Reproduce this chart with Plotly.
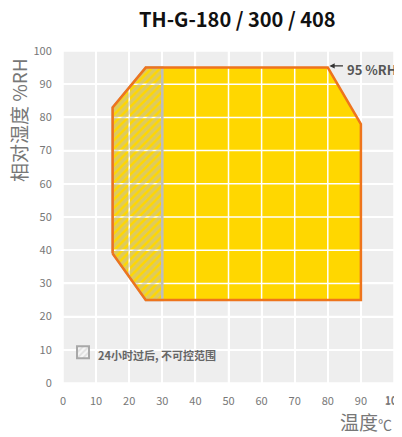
import plotly.graph_objects as go

# Data
title_text = "TH-G-180 / 300 / 408"
area_temp = [15, 15, 25, 80, 90, 90, 25, 15]
area_rh = [39, 83, 95, 95, 78, 25, 25, 39]
hatch_temp = [15, 15, 25, 30, 30, 25, 15]
hatch_rh = [39, 83, 95, 95, 25, 25, 39]
x_ticks = [0, 10, 20, 30, 40, 50, 60, 70, 80, 90, 100]
y_ticks = [0, 10, 20, 30, 40, 50, 60, 70, 80, 90, 100]
max_rh_label = "95 %RH"
max_rh_point = (80.5, 95.5)
legend_label = "24小时过后, 不可控范围"

FONT = "Noto Sans CJK SC"
YELLOW = "#FFD700"
ORANGE = "#EE741C"
GRAY_TXT = "#777777"
HATCH = "#BEBEBA"

fig = go.Figure()

# yellow area (no line)
fig.add_trace(go.Scatter(x=area_temp, y=area_rh, fill="toself", fillcolor=YELLOW,
                         line=dict(width=0, color=YELLOW), mode="lines",
                         hoverinfo="skip", showlegend=False))

# grid lines above fill
gx, gy = [], []
for t in x_ticks:
    gx += [t, t, None]
    gy += [y_ticks[0], y_ticks[-1], None]
for t in y_ticks:
    gx += [x_ticks[0], x_ticks[-1], None]
    gy += [t, t, None]
fig.add_trace(go.Scatter(x=gx, y=gy, mode="lines", line=dict(color="white", width=1.5),
                         hoverinfo="skip", showlegend=False))

# hatched area
fig.add_trace(go.Scatter(x=hatch_temp, y=hatch_rh, fill="toself", fillcolor="rgba(0,0,0,0)",
                         fillpattern=dict(shape="/", fgcolor=HATCH, bgcolor="rgba(0,0,0,0)",
                                          size=6, solidity=0.6),
                         line=dict(color="#BDBDBD", width=2.5), mode="lines",
                         hoverinfo="skip", showlegend=False))

# orange outline
fig.add_trace(go.Scatter(x=area_temp, y=area_rh, mode="lines",
                         line=dict(color=ORANGE, width=2.5),
                         hoverinfo="skip", showlegend=False))

# legend symbol
fig.add_trace(go.Bar(x=[None], y=[None], name=" ",
                     marker=dict(color="#EEEEEE",
                                 pattern=dict(shape="/", fgcolor="#C8C8C8", bgcolor="#F6F6F6",
                                              size=5, solidity=0.45),
                                 line=dict(color="#A8A8A8", width=2)),
                     showlegend=True))

# page body has an 8px default margin, so the figure is 8px smaller
fig.update_layout(
    width=394, height=429,
    margin=dict(l=55, r=8, t=43, b=54, autoexpand=False),
    paper_bgcolor="white", plot_bgcolor="#EEEEEE",
    font=dict(family=FONT, color=GRAY_TXT, size=11),
    showlegend=True,
    legend=dict(x=0.0, y=0.136, xanchor="left", yanchor="top",
                bgcolor="rgba(0,0,0,0)",
                font=dict(family=FONT, size=11, color="#666666", weight="bold"),
                itemwidth=30),
)
fig.update_xaxes(range=[0, 100], tickvals=x_ticks, showgrid=True, gridcolor="white", gridwidth=1.5,
                 zeroline=False, ticks="outside", ticklen=8, tickcolor="rgba(0,0,0,0)",
                 tickfont=dict(size=11, color=GRAY_TXT), fixedrange=True, automargin=False,
                 ticklabeloverflow="allow")
fig.update_yaxes(range=[0, 100], tickvals=y_ticks, showgrid=True, gridcolor="white", gridwidth=1.5,
                 zeroline=False, ticks="outside", ticklen=8, tickcolor="rgba(0,0,0,0)",
                 tickfont=dict(size=11, color=GRAY_TXT), fixedrange=True, automargin=False,
                 ticklabeloverflow="allow")

# last x tick label (hidden by plotly because it overflows the page edge)
fig.add_annotation(text=str(x_ticks[-1]), xref="x", yref="paper", x=x_ticks[-1], y=0,
                   yshift=-16, showarrow=False, xanchor="center", yanchor="middle",
                   font=dict(family=FONT, size=11, color=GRAY_TXT))
# legend text
fig.add_annotation(text=legend_label, xref="paper", yref="paper", x=0.1, y=0.084,
                   showarrow=False, xanchor="left", yanchor="middle",
                   font=dict(family=FONT, size=11, color="#666666", weight="bold"))
# title
fig.add_annotation(text=title_text, xref="paper", yref="paper", x=0.526, y=1.0,
                   yshift=33, showarrow=False, xanchor="center", yanchor="middle",
                   font=dict(family=FONT, size=20, color="#111111", weight="bold"))
# y title
fig.add_annotation(text="相对湿度 %RH", xref="paper", yref="paper", x=0, xshift=-45,
                   y=0.792, showarrow=False, textangle=-90, xanchor="center", yanchor="middle",
                   font=dict(family=FONT, size=19, color=GRAY_TXT))
# x title
fig.add_annotation(text="温度<span style='font-size:14px'>℃</span>", xref="paper", yref="paper",
                   x=1, y=0, yshift=-38, showarrow=False, xanchor="right", yanchor="middle",
                   font=dict(family=FONT, size=19, color=GRAY_TXT))
# 95 %RH arrow
fig.add_annotation(x=max_rh_point[0], y=max_rh_point[1], xref="x", yref="y", text="",
                   showarrow=True, ax=15, ay=0, arrowhead=2, arrowsize=0.8, arrowwidth=1.3,
                   arrowcolor="#333333")
fig.add_annotation(x=max_rh_point[0], y=max_rh_point[1], xref="x", yref="y", text=max_rh_label,
                   showarrow=False, xanchor="left", yanchor="middle", xshift=16, yshift=-4,
                   font=dict(family=FONT, size=13, color="#555555", weight="bold"))

fig.write_html("out.html")
